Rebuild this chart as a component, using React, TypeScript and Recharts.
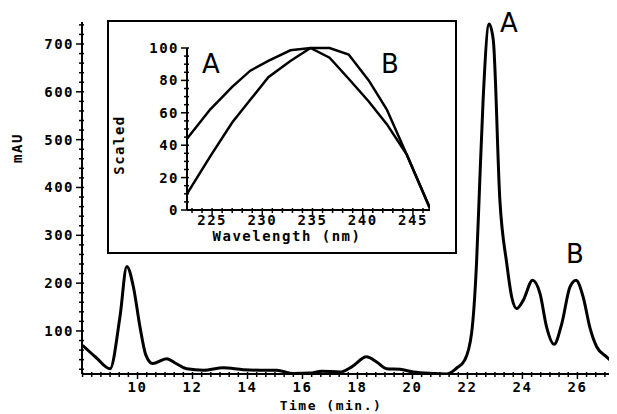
import React from 'react'
import { LineChart, Line, XAxis, YAxis } from 'recharts'

// Chromatogram trace (time in min, absorbance in mAU)
const timeMin = [
  8.0, 8.5, 9.0, 9.36, 9.61, 9.85, 10.09, 10.3, 10.55, 11.06, 11.4, 11.79, 12.4, 13.12,
  13.85, 14.45, 15.06, 15.67, 16.27, 16.7, 17.36, 17.79, 18.33, 18.7, 19.06, 19.55,
  20.03, 20.76, 21.24, 21.6, 21.9, 22.15, 22.33, 22.45, 22.57, 22.79, 22.94, 23.18,
  23.43, 23.61, 23.79, 24.03, 24.37, 24.64, 24.88, 25.15, 25.43, 25.73, 25.95, 26.21,
  26.45, 26.7, 27.06, 27.43
]
const absorbance = [
  70, 44, 21, 129, 235, 192, 108, 50, 32, 42, 32, 21, 18, 23,
  19, 18, 18, 11, 12, 16, 14, 25, 46, 35, 21, 20,
  14, 11, 10, 22, 39, 95, 241, 415, 583, 742, 708, 373,
  241, 171, 147, 164, 206, 178, 108, 72, 115, 192, 206, 171,
  108, 67, 46, 28
]
const timeLabels = [10, 12, 14, 16, 18, 20, 22, 24, 26]
const mauLabels = [100, 200, 300, 400, 500, 600, 700]

// Inset UV spectra of peaks A and B (scaled to 100)
const wavelengthNm = [222.5, 224.8, 227, 228.8, 230.6, 232.8, 234.8, 236.7, 238.6, 240.6, 242.4, 244.4, 246.7]
const spectrumA = [44, 62, 76, 86, 92, 98.6, 100, 94, 81, 67, 53, 34, 1]
const spectrumB = [10, 33, 54, 68, 82, 92, 100, 100, 96, 80, 62, 34, 1]
const nmLabels = [225, 230, 235, 240, 245]
const scaledLabels = [0, 20, 40, 60, 80, 100]

const FONT = '"DejaVu Sans Mono", monospace'
const INK = '#000'

const timeTicks = Array.from({ length: 59 }, (_, i) => +(8 + i / 3).toFixed(4))
const mauTicks = Array.from({ length: 37 }, (_, i) => 20 + i * 20)
const nmTicks = Array.from({ length: 24 }, (_, i) => 223 + i)
const scaledTicks = Array.from({ length: 21 }, (_, i) => i * 5)

const isLabel = (labels: number[], v: number) => labels.some(l => Math.abs(l - v) < 1e-6)

const tickText = {
  fontFamily: FONT,
  fontWeight: 700,
  fontSize: 14,
  letterSpacing: 1.5,
  fill: INK
}

const BottomTick = ({ x, y, payload, labels, dy }: any) => {
  const major = isLabel(labels, payload.value)
  return (
    <g>
      <line x1={x} x2={x} y1={y - 2} y2={y + (major ? 5 : 3)} stroke={INK} strokeWidth={1.5} />
      {major && (
        <text x={x} y={y + dy} textAnchor="middle" {...tickText}>
          {Math.round(payload.value)}
        </text>
      )}
    </g>
  )
}

const LeftTick = ({ x, y, payload, labels, dx }: any) => {
  const major = isLabel(labels, payload.value)
  return (
    <g>
      <line x1={major ? x - 6 : x - 3} x2={x + 2} y1={y} y2={y} stroke={INK} strokeWidth={1.5} />
      {major && (
        <text x={x - dx} y={y + 5} textAnchor="end" {...tickText}>
          {Math.round(payload.value)}
        </text>
      )}
    </g>
  )
}

const labelStyle: React.CSSProperties = {
  position: 'absolute',
  fontFamily: FONT,
  fontWeight: 700,
  fontSize: 14,
  letterSpacing: 1.5,
  lineHeight: 1,
  whiteSpace: 'nowrap',
  color: INK
}

const peakLabel: React.CSSProperties = {
  position: 'absolute',
  fontFamily: '"DejaVu Sans", sans-serif',
  fontSize: 26,
  lineHeight: 1,
  color: INK,
  transform: 'translate(-50%, -50%)'
}

export default function App() {
  const trace = timeMin.map((t, i) => ({ t, v: absorbance[i] }))
  const spectra = wavelengthNm.map((nm, i) => ({ nm, a: spectrumA[i], b: spectrumB[i] }))

  return (
    <div style={{ position: 'relative', width: 609, height: 406, background: '#fff' }}>
      <LineChart width={609} height={406} data={trace} margin={{ top: 14, right: 0, bottom: 0, left: 0 }}>
        <XAxis
          type="number"
          dataKey="t"
          domain={[7.98, 27.44]}
          ticks={timeTicks}
          interval={0}
          allowDataOverflow
          height={40}
          tickSize={0}
          tickMargin={0}
          tickLine={false}
          axisLine={{ stroke: INK, strokeWidth: 2 }}
          tick={<BottomTick labels={timeLabels} dy={18} />}
        />
        <YAxis
          type="number"
          domain={[10, 746]}
          ticks={mauTicks}
          interval={0}
          allowDataOverflow
          width={74}
          tickSize={0}
          tickMargin={0}
          tickLine={false}
          axisLine={{ stroke: INK, strokeWidth: 2 }}
          tick={<LeftTick labels={mauLabels} dx={8} />}
        />
        <Line
          type="monotone"
          dataKey="v"
          stroke={INK}
          strokeWidth={3}
          dot={false}
          isAnimationActive={false}
        />
      </LineChart>

      <div style={{ ...labelStyle, left: 9, top: 140, transform: 'translate(-50%, -50%) rotate(-90deg)' }}>mAU</div>
      <div style={{ ...labelStyle, fontSize: 13, left: 323, top: 397, transform: 'translate(-50%, -50%)' }}>Time (min.)</div>
      <div style={{ ...peakLabel, left: 501, top: 15 }}>A</div>
      <div style={{ ...peakLabel, left: 567, top: 246 }}>B</div>

      {/* inset: scaled UV spectra */}
      <div
        style={{
          position: 'absolute',
          left: 99,
          top: 12,
          width: 346,
          height: 230,
          border: '2px solid #000',
          background: '#fff'
        }}
      >
        <LineChart width={346} height={230} data={spectra} margin={{ top: 26, right: 25, bottom: 0, left: 0 }}>
          <XAxis
            type="number"
            dataKey="nm"
            domain={[222.5, 246.7]}
            ticks={nmTicks}
            interval={0}
            allowDataOverflow
            height={42}
            tickSize={0}
            tickMargin={0}
            tickLine={false}
            axisLine={{ stroke: INK, strokeWidth: 2 }}
            tick={<BottomTick labels={nmLabels} dy={15} />}
          />
          <YAxis
            type="number"
            domain={[0, 100]}
            ticks={scaledTicks}
            interval={0}
            width={78}
            tickSize={0}
            tickMargin={0}
            tickLine={false}
            axisLine={{ stroke: INK, strokeWidth: 2 }}
            tick={<LeftTick labels={scaledLabels} dx={8} />}
          />
          <Line type="linear" dataKey="a" stroke={INK} strokeWidth={2.5} dot={false} isAnimationActive={false} />
          <Line type="linear" dataKey="b" stroke={INK} strokeWidth={2.5} dot={false} isAnimationActive={false} />
        </LineChart>
        <div style={{ ...labelStyle, left: 10, top: 123, transform: 'translate(-50%, -50%) rotate(-90deg)' }}>Scaled</div>
        <div style={{ ...labelStyle, left: 178, top: 214, transform: 'translate(-50%, -50%)' }}>Wavelength (nm)</div>
        <div style={{ ...peakLabel, left: 102, top: 42 }}>A</div>
        <div style={{ ...peakLabel, left: 281, top: 42 }}>B</div>
      </div>
    </div>
  )
}
